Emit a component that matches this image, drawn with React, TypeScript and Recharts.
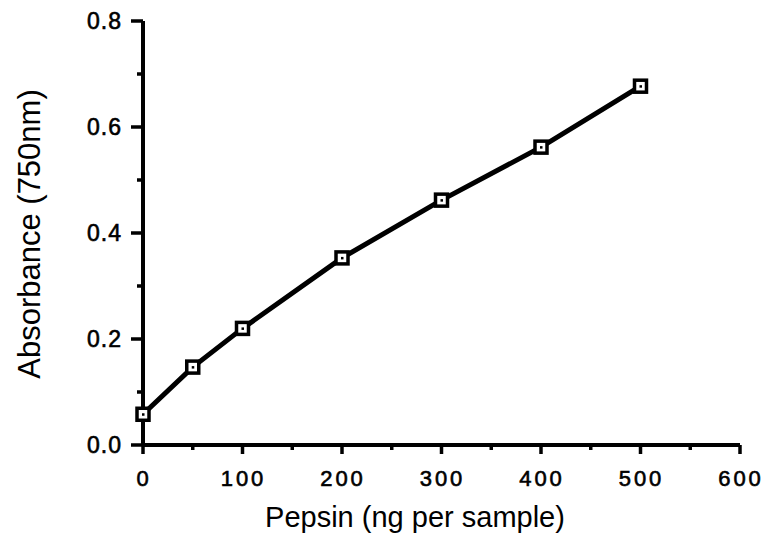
import { LineChart, Line, XAxis, YAxis, Label } from "recharts";

// pepsin standard curve
const pepsinNg = [0, 50, 100, 200, 300, 400, 500];
const absorbance = [0.058, 0.147, 0.22, 0.353, 0.462, 0.562, 0.677];

const xTicks = [0, 50, 100, 150, 200, 250, 300, 350, 400, 450, 500, 550, 600];
const yTicks = [0, 0.1, 0.2, 0.3, 0.4, 0.5, 0.6, 0.7, 0.8];

const data = pepsinNg.map((ng, i) => ({ ng, abs: absorbance[i] }));

const FONT = "'Liberation Sans', Arial, Helvetica, sans-serif";

function YTick(props: any) {
  const { x, y, index, payload } = props;
  const major = index % 2 === 0;
  return (
    <g>
      <line x1={x - (major ? 12 : 6)} x2={x} y1={y} y2={y} stroke="#000" strokeWidth={3.5} />
      {major && (
        <text x={x - 21} y={y} dy="0.36em" textAnchor="end" fontSize={23} fontFamily={FONT} letterSpacing={1} fill="#000" stroke="#000" strokeWidth={0.6}>
          {payload.value.toFixed(1)}
        </text>
      )}
    </g>
  );
}

function XTick(props: any) {
  const { x, y, index, payload } = props;
  const major = index % 2 === 0;
  return (
    <g>
      <line x1={x} x2={x} y1={y} y2={y + (major ? 9 : 5)} stroke="#000" strokeWidth={3.5} />
      {major && (
        <text x={x + 1} y={y + 41} textAnchor="middle" fontSize={22} fontFamily={FONT} letterSpacing={3} fill="#000" stroke="#000" strokeWidth={0.6}>
          {payload.value}
        </text>
      )}
    </g>
  );
}

function SquareDot(props: any) {
  const { cx, cy } = props;
  if (cx == null || cy == null) return null;
  return (
    <g>
      <rect x={cx - 6} y={cy - 6} width={12} height={12} fill="#fff" stroke="#000" strokeWidth={3.5} />
      <rect x={cx - 1} y={cy - 1} width={2.5} height={2.5} fill="#000" />
    </g>
  );
}

export default function App() {
  return (
    <div style={{ position: "absolute", left: 0, top: 0, background: "#fff" }}>
      <LineChart width={772} height={535} data={data} margin={{ top: 21, right: 32, bottom: 0, left: 0 }}>
        <XAxis
          dataKey="ng"
          type="number"
          domain={[0, 600]}
          ticks={xTicks}
          interval={0}
          height={90}
          tickSize={0}
          tickMargin={0}
          tickLine={false}
          axisLine={{ stroke: "#000", strokeWidth: 4 }}
          tick={<XTick />}
        >
          <Label
            content={() => (
              <text x={415} y={527} textAnchor="middle" fontSize={29} fontFamily={FONT} fill="#000">
                Pepsin (ng per sample)
              </text>
            )}
          />
        </XAxis>
        <YAxis
          type="number"
          domain={[0, 0.8]}
          ticks={yTicks}
          interval={0}
          width={143}
          tickSize={0}
          tickMargin={0}
          tickLine={false}
          axisLine={{ stroke: "#000", strokeWidth: 4 }}
          tick={<YTick />}
        >
          <Label
            content={() => (
              <text x={40} y={234} textAnchor="middle" fontSize={31} fontFamily={FONT} fill="#000" transform="rotate(-90 40 234)">
                Absorbance (750nm)
              </text>
            )}
          />
        </YAxis>
        <Line
          dataKey="abs"
          stroke="#000"
          strokeWidth={5}
          dot={<SquareDot />}
          activeDot={false}
          isAnimationActive={false}
        />
      </LineChart>
    </div>
  );
}
